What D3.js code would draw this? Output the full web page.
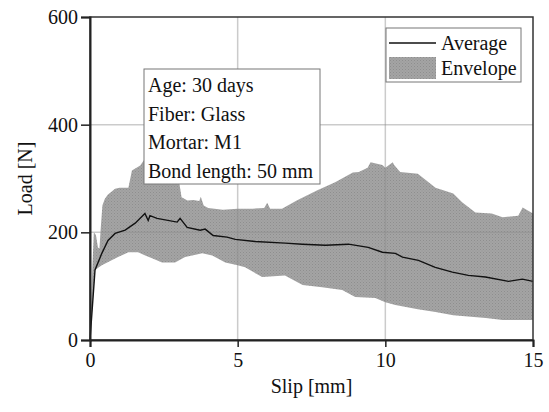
<!DOCTYPE html>
<html><head><meta charset="utf-8">
<script src="https://cdn.jsdelivr.net/npm/d3@7"></script>
<style>body{margin:0;background:#fff;} text{font-family:"Liberation Serif","Times New Roman",serif;}</style>
</head><body>
<svg id="c" width="549" height="412" font-family="Liberation Serif, serif"></svg>
<script>
// Data (slip [mm], load [N])
const upperSlip = [0,0.07,0.13,0.2,0.27,0.32,0.36,0.42,0.5,0.6,0.85,1.0,1.3,1.42,1.7,1.9,2.2,2.5,2.8,3.0,3.1,3.3,3.5,3.7,3.75,3.85,4.0,4.5,5.0,5.5,5.9,6.0,6.1,6.5,7.0,7.7,8.3,8.9,9.1,9.4,9.5,9.9,10.0,10.25,10.3,10.5,11.1,11.7,12.3,12.6,13.05,13.6,13.97,14.5,14.65,15];
const upperLoad = [0,120,200,195,172,170,205,250,262,270,281,283,283,315,324,340,345,340,330,300,265,259,260,258,266,250,245,242,244,244,245,255,244,244,259,278,293,311,312,320,330,325,320,330,325,312,309,283,272,256,237,235,228,231,246,235];
const lowerSlip = [0,0.17,0.4,0.95,1.3,1.63,1.87,2.1,2.44,2.88,3.22,3.8,4.14,4.58,5.0,5.25,5.83,6.6,7.2,7.86,8.54,8.98,9.66,10.0,10.34,11.1,11.7,12.3,13.4,13.97,15];
const lowerLoad = [0,130,139,154,163,163,157,152,144,144,154,161,157,144,139,135,117,120,102,98,93,80,78,70,65,57,52,46,41,37,37];
const avgSlip = [0,0.17,0.4,0.61,0.85,1.19,1.53,1.86,1.97,2.03,2.27,2.95,3.05,3.29,3.73,3.9,4.17,4.64,4.92,5.59,6.61,7.19,7.97,8.75,9.42,9.9,10.34,10.58,11.12,11.69,12.27,12.81,13.39,14.17,14.64,15];
const avgLoad = [0,130,161,185,198,204,217,235,222,231,226,219,226,209,204,206,194,191,187,183,180,178,176,178,172,163,161,154,148,135,126,120,117,109,113,109];
const xTicks = [0,5,10,15];
const yTicks = [0,200,400,600];
const infoLines = ["Age: 30 days","Fiber: Glass","Mortar: M1","Bond length: 50 mm"];
const legendLabels = ["Average","Envelope"];

const svg = d3.select("#c");
const L=90,R=533,T=17,B=340;
const x = d3.scaleLinear().domain([0,15]).range([L,R]);
const y = d3.scaleLinear().domain([0,600]).range([B,T]);

// texture pattern for envelope
const defs = svg.append("defs");
const pat = defs.append("pattern").attr("id","dots").attr("width",3).attr("height",3).attr("patternUnits","userSpaceOnUse");
pat.append("rect").attr("width",3).attr("height",3).attr("fill","#a4a4a4");
pat.append("rect").attr("width",1).attr("height",1).attr("fill","#8e8e8e");
pat.append("rect").attr("x",1.5).attr("y",1.5).attr("width",1).attr("height",1).attr("fill","#969696");

// envelope polygon
const upperPts = upperSlip.map((s,i)=>[s,upperLoad[i]]);
const lowerPts = lowerSlip.map((s,i)=>[s,lowerLoad[i]]).reverse();
const poly = upperPts.concat(lowerPts);
const line = d3.line().x(d=>x(d[0])).y(d=>y(d[1]));
svg.append("path").attr("d", line(poly)+"Z").attr("fill","url(#dots)").attr("stroke","none");

// grid
const g = svg.append("g");
[5,10].forEach(v=>g.append("line").attr("x1",x(v)).attr("x2",x(v)).attr("y1",T).attr("y2",B).attr("stroke","rgba(140,140,140,0.45)").attr("stroke-width",1.5));
[200,400].forEach(v=>g.append("line").attr("x1",L).attr("x2",R).attr("y1",y(v)).attr("y2",y(v)).attr("stroke","rgba(140,140,140,0.45)").attr("stroke-width",1.5));

// average
svg.append("path").attr("d", line(avgSlip.map((s,i)=>[s,avgLoad[i]]))).attr("fill","none").attr("stroke","#111").attr("stroke-width",1.4);

// frame
svg.append("rect").attr("x",L).attr("y",T).attr("width",R-L).attr("height",B-T).attr("fill","none").attr("stroke","#333").attr("stroke-width",1.5);

// axes
const xa = svg.append("g").attr("transform",`translate(0,${B})`).call(d3.axisBottom(x).tickValues(xTicks).tickSize(7).tickPadding(6));
const ya = svg.append("g").attr("transform",`translate(${L},0)`).call(d3.axisLeft(y).tickValues(yTicks).tickSize(9).tickPadding(3));
[xa,ya].forEach(a=>{
  a.attr("font-family","Liberation Serif, serif").attr("font-size",20);
  a.select(".domain").attr("stroke","#222").attr("stroke-width",2);
  a.selectAll(".tick line").attr("stroke","#222").attr("stroke-width",1.5);
  a.selectAll(".tick text").attr("fill","#111");
});

// axis titles
svg.append("text").attr("x",(L+R)/2).attr("y",393).attr("text-anchor","middle").attr("font-size",20).attr("fill","#111").text("Slip [mm]");
svg.append("text").attr("transform",`translate(32,${(T+B)/2}) rotate(-90)`).attr("text-anchor","middle").attr("font-size",20).attr("fill","#111").text("Load [N]");

// info box
svg.append("rect").attr("x",144).attr("y",69).attr("width",176).attr("height",115).attr("fill","#fff").attr("stroke","#777").attr("stroke-width",1);
infoLines.forEach((t,i)=>svg.append("text").attr("x",148).attr("y",92+i*28.5).attr("font-size",20).attr("fill","#111").text(t));

// legend
svg.append("rect").attr("x",386).attr("y",28).attr("width",135).attr("height",54).attr("fill","#fff").attr("stroke","#777").attr("stroke-width",1);
svg.append("line").attr("x1",389).attr("x2",436).attr("y1",43).attr("y2",43).attr("stroke","#111").attr("stroke-width",1.4);
svg.append("rect").attr("x",389).attr("y",57).attr("width",47).attr("height",22).attr("fill","url(#dots)");
legendLabels.forEach((t,i)=>svg.append("text").attr("x",441).attr("y",50+i*25).attr("font-size",20).attr("fill","#111").text(t));
</script>
</body></html>
